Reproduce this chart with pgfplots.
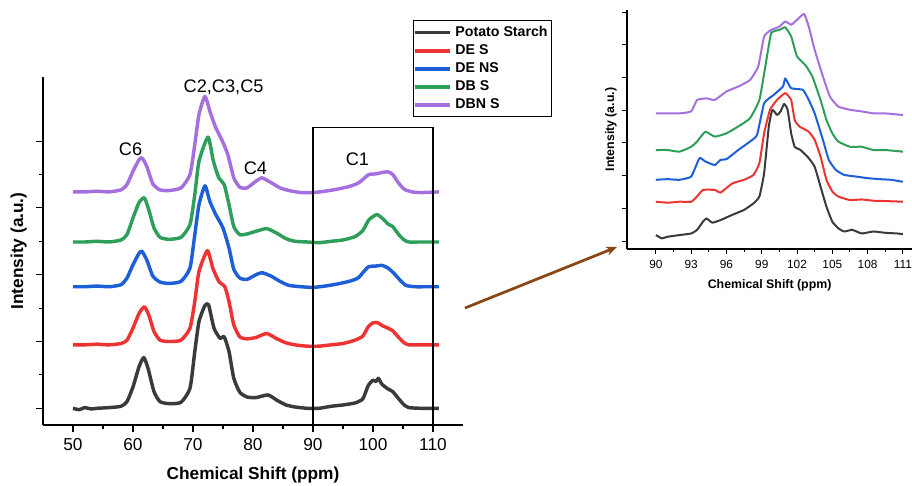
\documentclass[border=0pt]{standalone}
\usepackage{pgfplots}
\pgfplotsset{compat=1.18}
\usepackage{fontspec}
\setmainfont{Liberation Sans}
\usetikzlibrary{arrows.meta}
\definecolor{cblk}{HTML}{3A3A3A}
\definecolor{cred}{HTML}{EE3333}
\definecolor{cblu}{HTML}{1E5FD8}
\definecolor{cgrn}{HTML}{2E9E5B}
\definecolor{cpur}{HTML}{A66FE0}
\definecolor{cbrown}{HTML}{8B4513}
\begin{document}
\begin{tikzpicture}
\path[use as bounding box] (0,0) rectangle (501.6pt,-267.3pt);
% ---------------- main axis ----------------
\begin{axis}[
  at={(23.65pt,-233.75pt)}, anchor=south west,
  scale only axis, width=231pt, height=191.4pt,
  xmin=45, xmax=115, ymin=-0.25, ymax=4.96,
  axis x line*=bottom, axis y line*=left,
  axis line style={line width=0.7pt},
  xtick={50,60,...,110}, minor x tick num=1,
  ytick={0,1,2,3,4}, minor y tick num=1, yticklabels={},
  tick align=outside, major tick length=4pt, minor tick length=2.2pt,
  tick style={line width=0.6pt, black},
  /pgf/number format/assume math mode=true,
  ticklabel style={font=\fontsize{9.5}{11}\selectfont},
  xlabel={Chemical Shift (ppm)},
  ylabel={Intensity (a.u.)},
  label style={font=\bfseries\fontsize{9.5}{11}\selectfont},
  xlabel style={at={(axis description cs:0.5,-0.144)}, anchor=center},
  ylabel style={at={(axis description cs:-0.058,0.5)}, anchor=center},
  clip=false,
  legend style={at={(0.881,1.164)}, anchor=north west, draw=black, line width=0.6pt,
    font=\bfseries\fontsize{7.8}{9}\selectfont, inner xsep=0pt, inner ysep=1pt,
    row sep=-1pt, cells={anchor=west}},
  legend image code/.code={\draw[#1,line width=2pt] (-0.12cm,0cm) -- (0.55cm,0cm);},
  every axis plot/.append style={line width=1.9pt, line join=round, smooth, tension=0.35},
]
\addplot[cblk] coordinates {(50,0.00)(51,-0.02)(52,0.01)(53,-0.01)(54,0.00)(56,0.01)(58,0.03)(59,0.1)(60,0.32)(61,0.62)(61.8,0.76)(62.5,0.6)(63.5,0.25)(64.5,0.1)(66,0.07)(68,0.09)(69.5,0.3)(70.3,0.85)(71,1.3)(72,1.54)(72.6,1.55)(73.5,1.2)(74.5,1.05)(75.2,1.07)(76,0.85)(76.8,0.45)(77.8,0.24)(79,0.17)(80.5,0.16)(82.5,0.2)(84,0.12)(85.5,0.05)(87,0.02)(89,0.0)(91,0.0)(93,0.03)(95,0.05)(97,0.08)(98.3,0.14)(99.2,0.34)(100,0.42)(100.5,0.4)(100.9,0.45)(101.5,0.36)(102.5,0.29)(103.3,0.25)(104.3,0.14)(105.2,0.05)(106,0.01)(108,0.0)(111,0.0)};
\addlegendentry{Potato Starch}
\addplot[cred] coordinates {(50,0.95)(52,0.95)(54,0.96)(56,0.95)(58,0.97)(59,1.02)(60,1.2)(61,1.42)(61.9,1.52)(62.7,1.38)(63.5,1.15)(64.5,1.02)(66,1.0)(68,1.02)(69.5,1.2)(70.3,1.6)(71,2.05)(72.4,2.36)(73.3,2.1)(74.3,1.9)(75.3,1.82)(76,1.6)(76.8,1.25)(77.8,1.07)(79,1.04)(80.5,1.06)(82.3,1.12)(84,1.04)(85.5,0.98)(87,0.95)(89,0.93)(91,0.93)(93,0.95)(95,0.97)(97,1.02)(98.3,1.08)(99.2,1.22)(100,1.28)(100.8,1.28)(101.5,1.24)(102.5,1.2)(103.3,1.16)(104.3,1.06)(105.2,0.98)(106,0.95)(108,0.95)(111,0.95)};
\addlegendentry{DE S}
\addplot[cblu] coordinates {(50,1.82)(52,1.82)(54,1.83)(56,1.82)(58,1.85)(59,1.95)(60,2.15)(61,2.32)(61.5,2.35)(62.3,2.22)(63.3,1.98)(64.5,1.89)(66,1.87)(68,1.9)(69.5,2.1)(70.3,2.6)(71,3.05)(72,3.33)(72.8,3.1)(73.8,2.9)(75,2.7)(76,2.4)(76.8,2.08)(77.8,1.95)(79,1.93)(80.5,2.0)(81.5,2.03)(83,1.98)(84.5,1.9)(86,1.84)(88,1.82)(90,1.81)(92,1.83)(94,1.86)(96,1.9)(97.5,1.95)(98.5,2.05)(99.3,2.12)(100.5,2.13)(101.5,2.14)(102.5,2.1)(103.5,2.02)(104.5,1.92)(105.5,1.84)(107,1.82)(109,1.82)(111,1.82)};
\addlegendentry{DE NS}
\addplot[cgrn] coordinates {(50,2.49)(52,2.49)(54,2.5)(56,2.49)(58,2.52)(59,2.6)(60,2.85)(61,3.08)(61.9,3.15)(62.7,2.95)(63.5,2.7)(64.5,2.56)(66,2.53)(68,2.56)(69.5,2.75)(70.3,3.2)(71,3.7)(72.5,4.06)(73.4,3.7)(74.3,3.45)(75.2,3.35)(76,3.05)(76.8,2.72)(77.8,2.6)(79,2.61)(80.5,2.65)(82.3,2.69)(84,2.62)(85.5,2.54)(87,2.5)(89,2.49)(91,2.48)(93,2.5)(95,2.52)(97,2.57)(98.3,2.66)(99.3,2.82)(100.6,2.9)(101.5,2.85)(102.5,2.76)(103.3,2.72)(104.3,2.6)(105.2,2.52)(106,2.49)(108,2.49)(111,2.49)};
\addlegendentry{DB S}
\addplot[cpur] coordinates {(50,3.24)(52,3.24)(54,3.25)(56,3.24)(58,3.27)(59,3.35)(60,3.55)(61,3.72)(61.5,3.75)(62.3,3.62)(63.3,3.36)(64.5,3.27)(66,3.26)(68,3.3)(69.5,3.5)(70.3,3.95)(71,4.4)(72,4.67)(72.8,4.45)(73.8,4.2)(74.8,4.02)(75.8,3.8)(76.8,3.45)(77.8,3.31)(79,3.3)(80.5,3.4)(81.5,3.45)(83,3.38)(84.5,3.3)(86,3.26)(88,3.23)(90,3.23)(92,3.25)(94,3.28)(96,3.32)(97.5,3.37)(98.5,3.44)(99.3,3.5)(100.5,3.51)(101.5,3.53)(102.5,3.54)(103.3,3.5)(104.2,3.38)(105.2,3.28)(106.5,3.24)(108,3.23)(111,3.24)};
\addlegendentry{DBN S}
\draw[black, line width=0.6pt] (axis cs:90,-0.25) rectangle (axis cs:110,4.21);
\node[font=\fontsize{10}{12}\selectfont] at (axis cs:59.6,3.88) {C6};
\node[font=\fontsize{10}{12}\selectfont] at (axis cs:75.1,4.80) {C2,C3,C5};
\node[font=\fontsize{10}{12}\selectfont] at (axis cs:80.4,3.60) {C4};
\node[font=\fontsize{10}{12}\selectfont] at (axis cs:97.4,3.73) {C1};
\end{axis}
% ---------------- inset axis ----------------
\begin{axis}[
  at={(344.85pt,-136.95pt)}, anchor=south west,
  scale only axis, width=156.9pt, height=131.45pt,
  xmin=87.54, xmax=111.8, ymin=-0.245, ymax=7.06,
  axis x line*=bottom, axis y line*=left,
  axis line style={line width=0.6pt},
  xtick={90,93,...,111}, minor x tick num=1,
  ytick={0,1,...,7}, yticklabels={},
  tick align=outside, major tick length=2.8pt, minor tick length=1.6pt,
  tick style={line width=0.5pt, black},
  /pgf/number format/assume math mode=true,
  ticklabel style={font=\fontsize{6.5}{8}\selectfont},
  xlabel={Chemical Shift (ppm)},
  ylabel={Intensity (a.u.)},
  label style={font=\bfseries\fontsize{6.8}{8}\selectfont},
  xlabel style={at={(axis description cs:0.5,-0.151)}, anchor=center},
  ylabel style={at={(axis description cs:-0.056,0.5)}, anchor=center},
  every axis plot/.append style={line width=1.1pt, line join=round, smooth, tension=0.25},
]
\addplot[cblk] coordinates {(90,0.18)(90.5,0.08)(91,0.13)(92,0.18)(93,0.23)(93.5,0.34)(94,0.59)(94.3,0.69)(94.8,0.56)(95.5,0.64)(96.5,0.80)(97.5,0.95)(98.3,1.15)(98.8,1.36)(99.2,2.07)(99.6,3.50)(99.9,4.01)(100.3,3.85)(100.6,3.96)(100.9,4.19)(101.2,4.01)(101.5,3.29)(101.8,2.88)(102.3,2.78)(103.0,2.53)(103.5,2.27)(104.0,1.66)(104.5,1.05)(105.0,0.59)(105.5,0.39)(106,0.29)(106.7,0.34)(107.5,0.23)(108.5,0.29)(109.5,0.25)(110.5,0.23)(111,0.21)};
\addplot[cred] coordinates {(90,1.20)(91,1.17)(92,1.20)(93,1.20)(93.5,1.36)(94,1.56)(95,1.56)(95.5,1.48)(96.5,1.76)(97.5,1.87)(98.3,2.02)(98.8,2.38)(99.2,3.29)(99.7,4.01)(100.3,4.31)(101,4.52)(101.5,4.31)(101.8,3.70)(102.2,3.50)(103,3.34)(103.5,3.09)(104,2.58)(104.5,1.87)(105,1.51)(105.5,1.36)(106.5,1.25)(107.5,1.27)(108.5,1.23)(109.5,1.22)(111,1.20)};
\addplot[cblu] coordinates {(90,1.87)(91,1.89)(92,1.87)(93,1.97)(93.7,2.53)(94.2,2.43)(95,2.32)(95.5,2.48)(96,2.50)(97,2.78)(98,3.04)(98.6,3.24)(99.2,4.21)(100,4.46)(100.8,4.72)(101,4.97)(101.5,4.67)(102.5,4.62)(103,4.31)(103.5,3.90)(104.2,3.09)(104.7,2.48)(105.3,2.17)(106,2.02)(107,1.97)(108,1.92)(109,1.89)(110,1.87)(111,1.81)};
\addplot[cgrn] coordinates {(90,2.78)(91,2.78)(92,2.73)(93,2.88)(93.5,3.04)(94.2,3.34)(95,3.19)(96,3.29)(97,3.50)(98,3.75)(98.8,4.31)(99.3,5.33)(99.8,6.35)(100.5,6.45)(101,6.53)(101.5,6.25)(102,5.64)(102.7,5.38)(103.3,5.03)(104,4.31)(104.5,3.70)(105,3.29)(105.5,3.04)(106.5,2.88)(107.5,2.88)(108.5,2.78)(109.5,2.78)(111,2.73)};
\addplot[cpur] coordinates {(90,3.90)(91,3.90)(92,3.90)(93,3.96)(93.5,4.31)(94.3,4.36)(95,4.31)(96,4.57)(97,4.72)(98,4.92)(98.7,5.33)(99.2,6.25)(99.8,6.45)(100.5,6.55)(101,6.71)(101.5,6.61)(102,6.76)(102.6,6.94)(103,6.55)(103.5,5.84)(104.2,5.03)(104.8,4.41)(105.5,4.11)(106.5,4.01)(107.5,3.96)(108.5,3.90)(109.5,3.90)(111,3.85)};
\end{axis}
\draw[cbrown, line width=1.5pt, -{Stealth[length=6pt,width=5pt]}] (255.75pt,-169.4pt) -- (339.35pt,-135.85pt);
\end{tikzpicture}
\end{document}
